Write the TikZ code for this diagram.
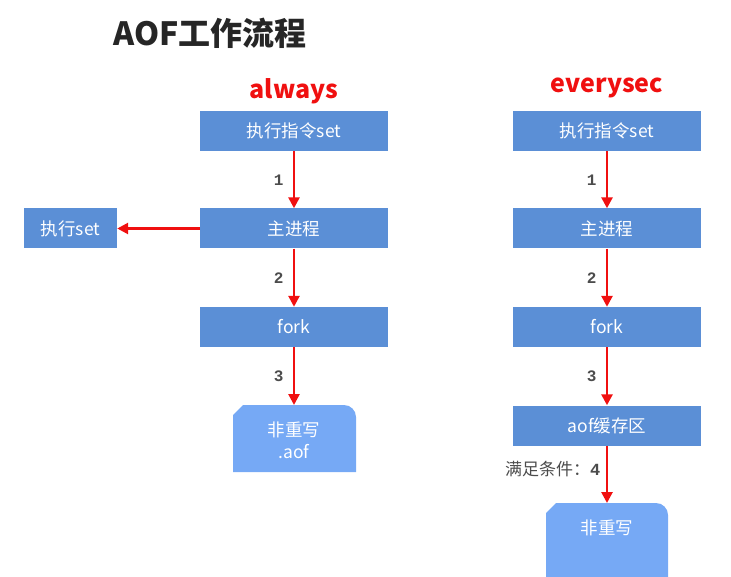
\documentclass[tikz,border=0pt]{standalone}
\usepackage{fontspec}
\setmainfont{Noto Sans CJK SC}
\newfontfamily\monof{Liberation Mono}
\newfontfamily\serifcjk{Noto Sans CJK SC}
\usetikzlibrary{arrows.meta}
\definecolor{boxc}{HTML}{5B8FD6}
\definecolor{docc}{HTML}{76A9F5}
\definecolor{redc}{HTML}{F01010}
\tikzset{
 stepbox/.style={fill=boxc,text=white,minimum width=188pt,minimum height=40pt,inner sep=0pt,font=\fontsize{17.5}{19}\selectfont},
 arr/.style={draw=redc,line width=2.6pt,-{Triangle[length=11pt,width=11pt]}},
 num/.style={text=black!70,font=\monof\bfseries\fontsize{16}{18}\selectfont},
 head/.style={text=redc,font=\bfseries\fontsize{25}{27}\selectfont},
 doc/.style={fill=docc}
}
\begin{document}
\begin{tikzpicture}[x=1pt,y=-1pt]
\useasboundingbox (0,0) rectangle (731,577);
\node[anchor=west,font=\bfseries\fontsize{32}{34}\selectfont,text=black!85] (title) at (110,33) {AOF工作流程};
\node[head] (h1) at (294,91) {always};
\node[head] (h2) at (607,88) {everysec};
% left
\node[stepbox] (a1) at (294,131) {执行指令set};
\node[stepbox] (a2) at (294,228.5) {主进程};
\node[stepbox] (a3) at (294,327) {fork};
\node[stepbox,minimum width=93pt] (ax) at (70.5,228.5) {执行set};
\fill[doc] (233,472) -- (233,415) -- (243,405) [rounded corners=12pt] -- (356,405) [sharp corners] -- (356,472) -- cycle;
\node[text=white,align=center,font=\fontsize{17.5}{22}\selectfont] (ad) at (294,440) {非重写\\.aof};
\coordinate (adt) at (294,405);
\draw[arr] (a1) -- node[num,left=6pt] {1} (a2);
\draw[arr] (a2) -- node[num,left=6pt] {2} (a3);
\draw[arr] (a3) -- node[num,left=6pt] {3} (adt);
\draw[arr] (a2.west) -- (ax.east);
% right
\node[stepbox] (b1) at (607,131) {执行指令set};
\node[stepbox] (b2) at (607,228.5) {主进程};
\node[stepbox] (b3) at (607,327) {fork};
\node[stepbox] (b4) at (607,425.5) {aof缓存区};
\fill[doc] (546,577) -- (546,513) -- (556,503) [rounded corners=12pt] -- (668,503) [sharp corners] -- (668,577) -- cycle;
\node[text=white,font=\fontsize{17.5}{22}\selectfont] (bd) at (607,528) {非重写};
\coordinate (bdt) at (607,503);
\draw[arr] (b4) -- node[num,left=2pt,pos=0.4,font=\fontsize{17}{19}\selectfont] {\serifcjk\mdseries 满足条件：\monof\bfseries 4} (bdt);
\draw[arr] (b1) -- node[num,left=6pt] {1} (b2);
\draw[arr] (b2) -- node[num,left=6pt] {2} (b3);
\draw[arr] (b3) -- node[num,left=6pt] {3} (b4);
\end{tikzpicture}
\end{document}
